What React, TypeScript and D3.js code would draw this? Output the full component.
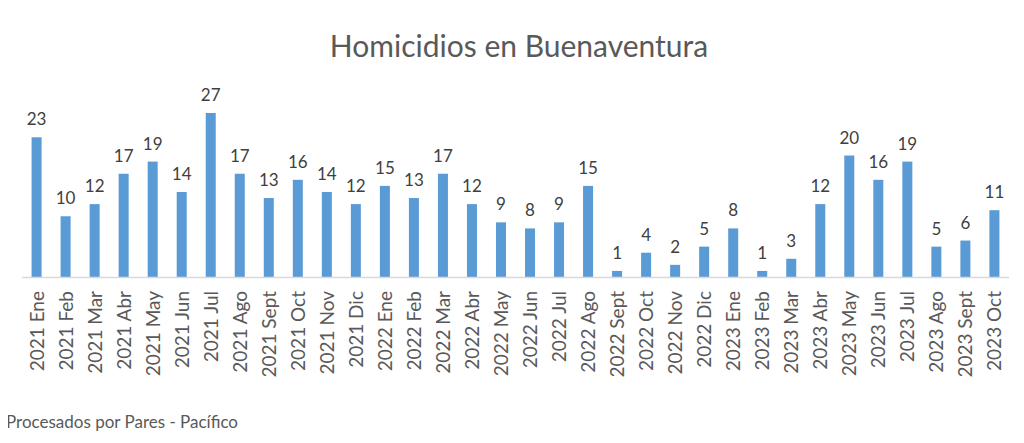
import { useEffect, useRef } from 'react'
import * as d3 from 'd3'

const months = [
  '2021 Ene', '2021 Feb', '2021 Mar', '2021 Abr', '2021 May', '2021 Jun', '2021 Jul', '2021 Ago',
  '2021 Sept', '2021 Oct', '2021 Nov', '2021 Dic',
  '2022 Ene', '2022 Feb', '2022 Mar', '2022 Abr', '2022 May', '2022 Jun', '2022 Jul', '2022 Ago',
  '2022 Sept', '2022 Oct', '2022 Nov', '2022 Dic',
  '2023 Ene', '2023 Feb', '2023 Mar', '2023 Abr', '2023 May', '2023 Jun', '2023 Jul', '2023 Ago',
  '2023 Sept', '2023 Oct',
]
const homicidios = [
  23, 10, 12, 17, 19, 14, 27, 17, 13, 16, 14, 12,
  15, 13, 17, 12, 9, 8, 9, 15, 1, 4, 2, 5,
  8, 1, 3, 12, 20, 16, 19, 5, 6, 11,
]
const title = 'Homicidios en Buenaventura'
const source = 'Procesados por Pares - Pacífico'

const FONT = 'Lato, "Open Sans", sans-serif'
const TEXT = '#595959'

export default function App() {
  const svgRef = useRef<SVGSVGElement>(null)

  useEffect(() => {
    if (!svgRef.current) return
    const width = 1024
    const height = 443
    const margin = { top: 113, right: 15, bottom: 166, left: 22 }
    const innerW = width - margin.left - margin.right
    const innerH = height - margin.top - margin.bottom

    const svg = d3.select(svgRef.current)
    svg.selectAll('*').remove()
    svg.attr('width', width).attr('height', height)

    svg.append('rect').attr('width', width).attr('height', height).attr('fill', '#fff')

    svg.append('text')
      .attr('x', 519).attr('y', 57)
      .attr('text-anchor', 'middle')
      .attr('fill', TEXT).attr('font-family', FONT).attr('font-size', '30px')
      .text(title)

    const g = svg.append('g').attr('transform', `translate(${margin.left},${margin.top})`)

    const x = d3.scaleBand().domain(months).range([0, innerW]).paddingInner(0.655).paddingOuter(0.33)
    const y = d3.scaleLinear().domain([0, 27]).range([innerH, 0])

    g.selectAll('rect.bar')
      .data(months)
      .enter().append('rect')
      .attr('class', 'bar')
      .attr('x', d => x(d)!)
      .attr('width', x.bandwidth())
      .attr('y', (d, i) => y(homicidios[i]))
      .attr('height', (d, i) => innerH - y(homicidios[i]))
      .attr('fill', '#5b9bd5')

    g.selectAll('text.val')
      .data(months)
      .enter().append('text')
      .attr('class', 'val')
      .attr('x', d => x(d)! + x.bandwidth() / 2)
      .attr('y', (d, i) => y(homicidios[i]) - 12)
      .attr('text-anchor', 'middle')
      .attr('fill', '#404040').attr('font-family', FONT).attr('font-size', '17px')
      .text((d, i) => homicidios[i])

    g.append('line')
      .attr('x1', 0).attr('x2', innerW)
      .attr('y1', innerH + 0.5).attr('y2', innerH + 0.5)
      .attr('stroke', '#d9d9d9').attr('stroke-width', 1.5)

    g.selectAll('text.lab')
      .data(months)
      .enter().append('text')
      .attr('class', 'lab')
      .attr('transform', d => `translate(${x(d)! + x.bandwidth() / 2 + 7},${innerH + 14}) rotate(-90)`)
      .attr('text-anchor', 'end')
      .attr('fill', TEXT).attr('font-family', FONT).attr('font-size', '19px')
      .text(d => d)

    svg.append('text')
      .attr('x', 6).attr('y', 428)
      .attr('fill', TEXT).attr('font-family', FONT).attr('font-size', '17px')
      .text(source)
  }, [])

  return (
    <div style={{ margin: -8 }}>
      <svg ref={svgRef} style={{ display: 'block' }} />
    </div>
  )
}
